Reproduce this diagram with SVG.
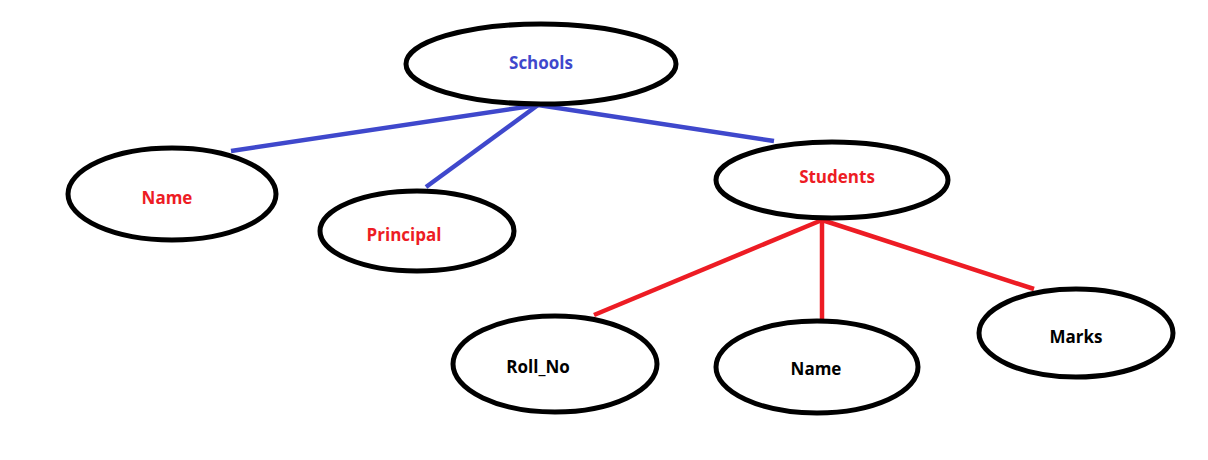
<svg xmlns="http://www.w3.org/2000/svg" width="1208" height="460" viewBox="0 0 1208 460">
<style>
.node ellipse{fill:#fff;stroke:#000;stroke-width:5}
text{font-family:"Open Sans","Liberation Sans",sans-serif;font-weight:bold;font-size:17px;text-anchor:middle;dominant-baseline:central}
.blue{fill:#3f48cc}.red{fill:#ed1c24}.black{fill:#000}
.eb{stroke:#3f48cc;stroke-width:4.5;fill:none}
.er{stroke:#ed1c24;stroke-width:4.5;fill:none}
</style>
<rect width="1208" height="460" fill="#fff"/>
<g id="connectors">
<line class="eb" x1="538" y1="105" x2="231" y2="151"/>
<line class="eb" x1="538" y1="105" x2="426" y2="187"/>
<line class="eb" x1="538" y1="105" x2="774" y2="141"/>
<line class="er" x1="822" y1="220" x2="594" y2="315"/>
<line class="er" x1="822" y1="220" x2="822" y2="320"/>
<line class="er" x1="822" y1="220" x2="1034" y2="289"/>
</g>
<g id="schools" class="node"><ellipse cx="541" cy="64" rx="135" ry="40"/><text x="541" y="62" class="blue">Schools</text></g>
<g id="name1" class="node"><ellipse cx="172" cy="194" rx="104" ry="46"/><text x="167" y="197" class="red">Name</text></g>
<g id="principal" class="node"><ellipse cx="417" cy="231" rx="97" ry="40"/><text x="404" y="234" class="red">Principal</text></g>
<g id="students" class="node"><ellipse cx="832" cy="180" rx="116" ry="38"/><text x="837" y="176" class="red">Students</text></g>
<g id="rollno" class="node"><ellipse cx="555" cy="364" rx="102" ry="48"/><text x="538" y="366" class="black">Roll_No</text></g>
<g id="name2" class="node"><ellipse cx="817" cy="367" rx="101" ry="46"/><text x="816" y="368" class="black">Name</text></g>
<g id="marks" class="node"><ellipse cx="1076" cy="333" rx="97" ry="44"/><text x="1076" y="336" class="black">Marks</text></g>
</svg>
